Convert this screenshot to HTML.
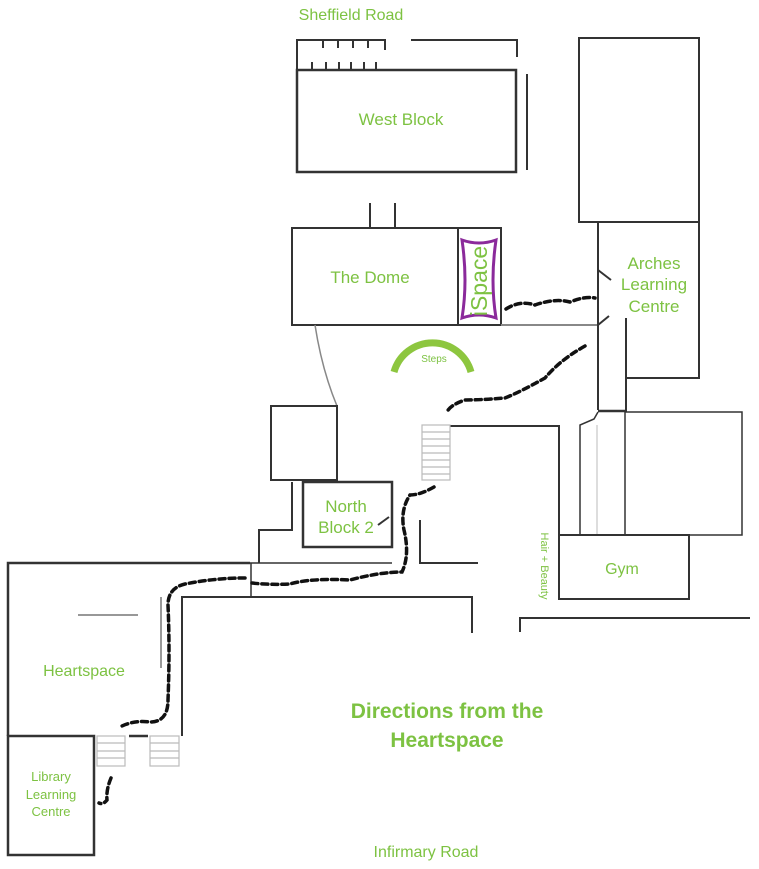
<!DOCTYPE html>
<html><head><meta charset="utf-8"><style>
html,body{margin:0;padding:0;background:#fff;}
svg{display:block;}
text{font-family:"Liberation Sans",sans-serif;fill:#7dc242;}
</style></head><body>
<svg width="759" height="869" viewBox="0 0 759 869" xmlns="http://www.w3.org/2000/svg">
<g fill="none" stroke="#333" stroke-width="2">
<polyline points="297,70 297,40 385,40 385,50"/>
<line x1="323" y1="40" x2="323" y2="48"/><line x1="338" y1="40" x2="338" y2="48"/><line x1="353" y1="40" x2="353" y2="48"/><line x1="368" y1="40" x2="368" y2="48"/>
<line x1="312" y1="62" x2="312" y2="70"/><line x1="326" y1="62" x2="326" y2="70"/><line x1="339" y1="62" x2="339" y2="70"/><line x1="351" y1="62" x2="351" y2="70"/><line x1="364" y1="62" x2="364" y2="70"/><line x1="376" y1="62" x2="376" y2="70"/>
<polyline points="411,40 517,40 517,57"/>
<rect x="297" y="70" width="219" height="102" stroke-width="2.5"/>
<line x1="527" y1="74" x2="527" y2="170"/>
<rect x="579" y="38" width="120" height="184"/>
<line x1="370" y1="203" x2="370" y2="228"/><line x1="395" y1="203" x2="395" y2="228"/>
<rect x="292" y="228" width="209" height="97"/>
<line x1="458" y1="228" x2="458" y2="325"/>
<line x1="501" y1="325" x2="598" y2="325" stroke="#888"/>
<polyline points="598,410 598,222 699,222 699,378 626,378"/>
<line x1="626" y1="318" x2="626" y2="412"/>
<line x1="598" y1="270" x2="611" y2="280"/><line x1="598" y1="325" x2="609" y2="316"/>
<line x1="598" y1="411" x2="626" y2="411" stroke-width="2.5"/>
<rect x="625" y="412" width="117" height="123" stroke-width="1.5"/>
<polyline points="580,535 580,425 594,419 598,412" stroke-width="1.5"/>
<line x1="597" y1="425" x2="597" y2="535" stroke="#ddd"/>
<rect x="559" y="535" width="130" height="64"/>
<polyline points="450,426 559,426 559,535"/>
<polyline points="420,520 420,563 478,563"/>
<polyline points="520,632 520,618 750,618"/>
<path d="M315,325 Q322,370 337,406" stroke="#888" stroke-width="1.5"/>
<rect x="271" y="406" width="66" height="74"/>
<rect x="303" y="482" width="89" height="65" stroke-width="2.5"/>
<line x1="378" y1="525" x2="389" y2="517"/>
<polyline points="292,482 292,530 259,530 259,563"/>
<polyline points="8,736 8,563 250,563" stroke-width="2.5"/>
<line x1="250" y1="563" x2="392" y2="563" stroke-width="1.5"/>
<line x1="251" y1="563" x2="251" y2="597" stroke-width="1.5"/>
<polyline points="182,736 182,597 472,597 472,633" stroke-width="2"/>
<line x1="78" y1="615" x2="138" y2="615" stroke="#777" stroke-width="1.5"/>
<line x1="161" y1="597" x2="161" y2="668" stroke="#777" stroke-width="1.5"/>
<rect x="8" y="736" width="86" height="119" stroke-width="2.5"/>
<line x1="129" y1="736" x2="148" y2="736" stroke-width="2.5"/>
</g>
<g fill="none" stroke="#bbb" stroke-width="1.2">
<rect x="97" y="736" width="28" height="30"/><line x1="97" y1="743" x2="125" y2="743"/><line x1="97" y1="751" x2="125" y2="751"/><line x1="97" y1="758" x2="125" y2="758"/>
<rect x="150" y="736" width="29" height="30"/><line x1="150" y1="743" x2="179" y2="743"/><line x1="150" y1="751" x2="179" y2="751"/><line x1="150" y1="758" x2="179" y2="758"/>
<rect x="422" y="425" width="28" height="55"/>
<line x1="422" y1="432" x2="450" y2="432"/><line x1="422" y1="439" x2="450" y2="439"/><line x1="422" y1="446" x2="450" y2="446"/><line x1="422" y1="453" x2="450" y2="453"/><line x1="422" y1="460" x2="450" y2="460"/><line x1="422" y1="467" x2="450" y2="467"/><line x1="422" y1="474" x2="450" y2="474"/>
</g>
<path d="M462,240 Q479,246 496,240 Q490,281 496,318 Q479,312 462,318 Q468,281 462,240 Z" fill="none" stroke="#8b2a9b" stroke-width="3"/>
<path d="M394,372 A40,40 0 0 1 471,372" fill="none" stroke="#8dc63f" stroke-width="7"/>
<g fill="none" stroke="#111" stroke-width="3.5" stroke-dasharray="6 4" stroke-linecap="round">
<path d="M506,309 Q520,300 535,305 Q555,298 570,302 Q585,296 595,298"/>
<path d="M585,346 Q560,360 545,378 Q520,392 505,398 Q480,400 465,400 Q450,405 447,412"/>
<path d="M434,487 Q420,495 410,495 Q400,510 404,530 Q410,555 402,572 Q380,572 350,580 Q310,578 290,584 Q270,585 252,583"/>
<path d="M245,578 Q215,578 185,584 Q168,588 168,605 Q170,650 168,700 Q168,722 150,722 Q135,720 122,726"/>
<path d="M111,778 Q106,790 107,800 Q103,805 99,803"/>
</g>
<text x="351" y="20" font-size="16" text-anchor="middle">Sheffield Road</text>
<text x="401" y="125" font-size="17" text-anchor="middle">West Block</text>
<text x="370" y="283" font-size="17" text-anchor="middle">The Dome</text>
<text transform="translate(487,281) rotate(-90)" font-size="23" text-anchor="middle">iSpace</text>
<text x="654" y="269" font-size="17" text-anchor="middle">Arches</text>
<text x="654" y="290" font-size="17" text-anchor="middle">Learning</text>
<text x="654" y="312" font-size="17" text-anchor="middle">Centre</text>
<text x="434" y="362" font-size="10" text-anchor="middle">Steps</text>
<text x="346" y="512" font-size="17" text-anchor="middle">North</text>
<text x="346" y="533" font-size="17" text-anchor="middle">Block 2</text>
<text x="622" y="574" font-size="16" text-anchor="middle">Gym</text>
<text transform="translate(541,566) rotate(90)" font-size="11" text-anchor="middle">Hair + Beauty</text>
<text x="84" y="676" font-size="16" text-anchor="middle">Heartspace</text>
<text x="447" y="718" font-size="21" font-weight="bold" text-anchor="middle">Directions from the</text>
<text x="447" y="747" font-size="21" font-weight="bold" text-anchor="middle">Heartspace</text>
<text x="51" y="781" font-size="13" text-anchor="middle">Library</text>
<text x="51" y="799" font-size="13" text-anchor="middle">Learning</text>
<text x="51" y="816" font-size="13" text-anchor="middle">Centre</text>
<text x="426" y="857" font-size="16" text-anchor="middle">Infirmary Road</text>
</svg>
</body></html>
